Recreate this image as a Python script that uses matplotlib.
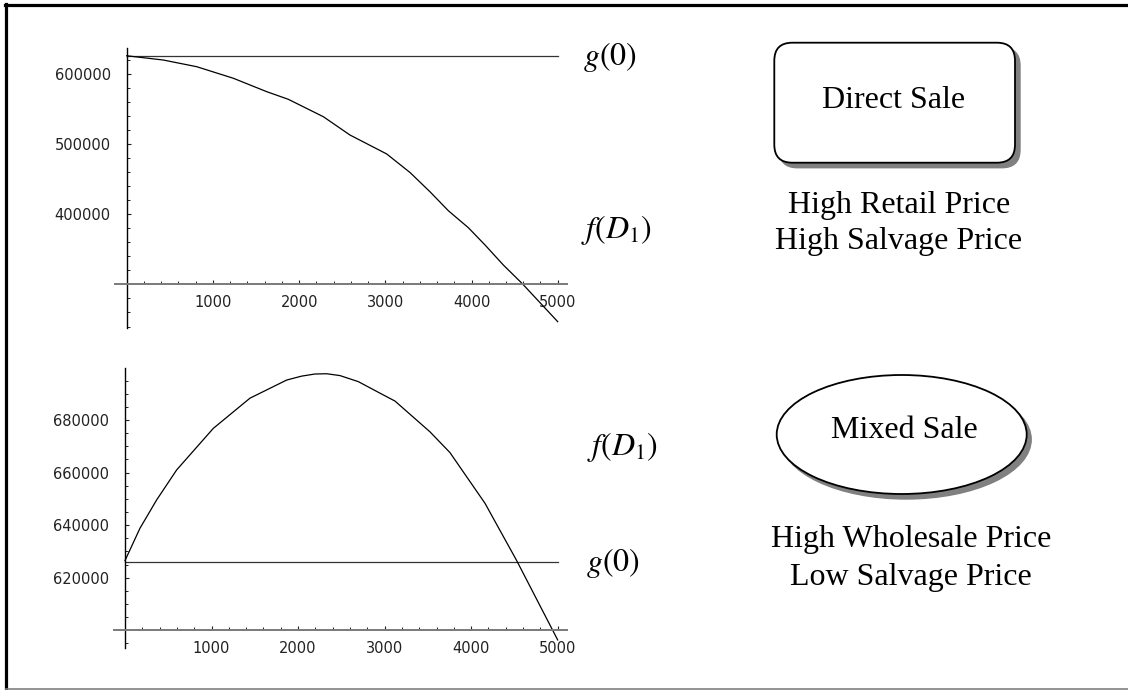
import numpy as np
import matplotlib.pyplot as plt
from matplotlib.patches import FancyBboxPatch, Ellipse
from matplotlib.lines import Line2D
from matplotlib.ticker import MultipleLocator, FixedLocator

plt.rcParams["mathtext.fontset"] = "stix"

# ── Data ─────────────────────────────────────────────────────────────────────
G0 = 626000   # g(0), same level in both panels

# top panel: direct sale
d_direct = [0, 425, 812, 1237, 1624, 1875, 2281, 2590, 3016, 3287, 3519,
            3731, 3963, 4157, 4369, 4589, 5000]
f_direct = [626000, 619900, 610400, 593900, 574800, 563900, 539100, 513000,
            486000, 459500, 432000, 405100, 380900, 356200, 327700, 301100,
            246900]

# bottom panel: mixed sale
d_mixed = [0, 173, 366, 597, 1020, 1444, 1868, 2042, 2196, 2330, 2484, 2696,
           2947, 3120, 3524, 3755, 4160, 4526, 5000]
f_mixed = [626500, 638800, 649600, 661000, 676800, 688300, 695200, 696700,
           697500, 697600, 696900, 694600, 690200, 687200, 675500, 667600,
           648300, 626500, 596300]

x_major = [1000, 2000, 3000, 4000, 5000]
y_major_top = [400000, 500000, 600000]
y_major_bot = [620000, 640000, 660000, 680000]

box_titles = ["Direct Sale", "Mixed Sale"]
box_notes = [["High Retail Price", "High Salvage Price"],
             ["High Wholesale Price", "Low Salvage Price"]]

# ── Figure ───────────────────────────────────────────────────────────────────
W, H = 1128, 690
fig = plt.figure(figsize=(W / 100, H / 100), dpi=100)


def px_axes(left, top, right, bottom):
    return fig.add_axes([left / W, 1 - bottom / H, (right - left) / W,
                         (bottom - top) / H])


def style_axes(ax, x0, y0, ymajor, yminor):
    for s in ("top", "right"):
        ax.spines[s].set_visible(False)
    ax.spines["left"].set_position(("data", x0))
    ax.spines["bottom"].set_position(("data", y0))
    ax.spines["left"].set_linewidth(1.0)
    ax.spines["bottom"].set_linewidth(1.4)
    ax.spines["bottom"].set_color("#7a7a7a")
    ax.patch.set_visible(False)
    ax.xaxis.set_major_locator(FixedLocator(x_major))
    ax.xaxis.set_minor_locator(MultipleLocator(200))
    ax.yaxis.set_major_locator(FixedLocator(ymajor))
    ax.yaxis.set_minor_locator(MultipleLocator(yminor))
    ax.tick_params(axis="both", which="both", direction="in", colors="#222222",
                   labelsize=10.5)
    ax.tick_params(axis="x", which="major", length=2.8, width=0.8, pad=7.5)
    ax.tick_params(axis="x", which="minor", length=2.0, width=0.7)
    ax.tick_params(axis="y", which="major", length=3.0, width=0.8, pad=11.5)
    ax.tick_params(axis="y", which="minor", length=2.2, width=0.7)
    ax.xaxis.set_major_formatter(plt.FuncFormatter(lambda v, p: f"{v:.0f}"))
    ax.yaxis.set_major_formatter(plt.FuncFormatter(lambda v, p: f"{v:.0f}"))


# top panel
ax1 = px_axes(115, 48, 566.7, 328)
ax1.set_xlim(-136, 5104)
ax1.set_ylim(237900, 637060)
style_axes(ax1, 0, 300000, y_major_top, 20000)
ax1.plot([0, 5000], [G0, G0], color="#333333", lw=0.9)
ax1.plot(d_direct, f_direct, color="black", lw=0.9, clip_on=False)

# bottom panel
ax2 = px_axes(114, 368.3, 566.7, 648.3)
ax2.set_xlim(-127, 5104)
ax2.set_ylim(593130, 699670)
style_axes(ax2, 0, 600000, y_major_bot, 5000)
ax2.plot([0, 5000], [G0, G0], color="#333333", lw=0.9)
ax2.plot(d_mixed, f_mixed, color="black", lw=0.9, clip_on=False)

# ── Overlay in pixel units: frame, labels, shapes ───────────────────────────
ov = fig.add_axes([0, 0, 1, 1])
ov.set_xlim(0, W)
ov.set_ylim(H, 0)
ov.axis("off")
ov.patch.set_visible(False)

ov.add_line(Line2D([6, 6], [4, H], color="black", lw=2.3))
ov.add_line(Line2D([5, W], [5, 5], color="black", lw=2.3))
ov.add_line(Line2D([6, W], [688.5, 688.5], color="#808080", lw=1.2))

serif = "Liberation Serif"
FS = 23
ov.text(583, 57, r"$g(0)$", fontsize=FS, ha="left", va="center")
ov.text(580.7, 230, r"$f(D_1)$", fontsize=FS, ha="left", va="center")
ov.text(586.7, 447, r"$f(D_1)$", fontsize=FS, ha="left", va="center")
ov.text(586, 563, r"$g(0)$", fontsize=FS, ha="left", va="center")

# direct sale box with shadow
ov.add_patch(FancyBboxPatch((779.3, 47.7), 240.7, 120,
                            boxstyle="round,pad=0,rounding_size=18",
                            fc="#808080", ec="#808080", lw=1.0))
ov.add_patch(FancyBboxPatch((774.3, 42.7), 240.7, 120,
                            boxstyle="round,pad=0,rounding_size=18",
                            fc="white", ec="black", lw=1.3))
ov.text(894, 101, box_titles[0], fontsize=FS, family=serif,
        ha="center", va="center")
for i, line in enumerate(box_notes[0]):
    ov.text(899, 205 + i * 36.7, line, fontsize=FS, family=serif,
            ha="center", va="center")

# mixed sale ellipse with shadow
ov.add_patch(Ellipse((906.2, 439.5), 250, 119, fc="#808080", ec="#808080"))
ov.add_patch(Ellipse((901.7, 434.5), 250, 119, fc="white", ec="black",
                     lw=1.3))
ov.text(904, 430, box_titles[1], fontsize=FS, family=serif,
        ha="center", va="center")
for i, line in enumerate(box_notes[1]):
    ov.text(911, 540 + i * 37.3, line, fontsize=FS, family=serif,
            ha="center", va="center")

plt.savefig("out.png", dpi=100)
